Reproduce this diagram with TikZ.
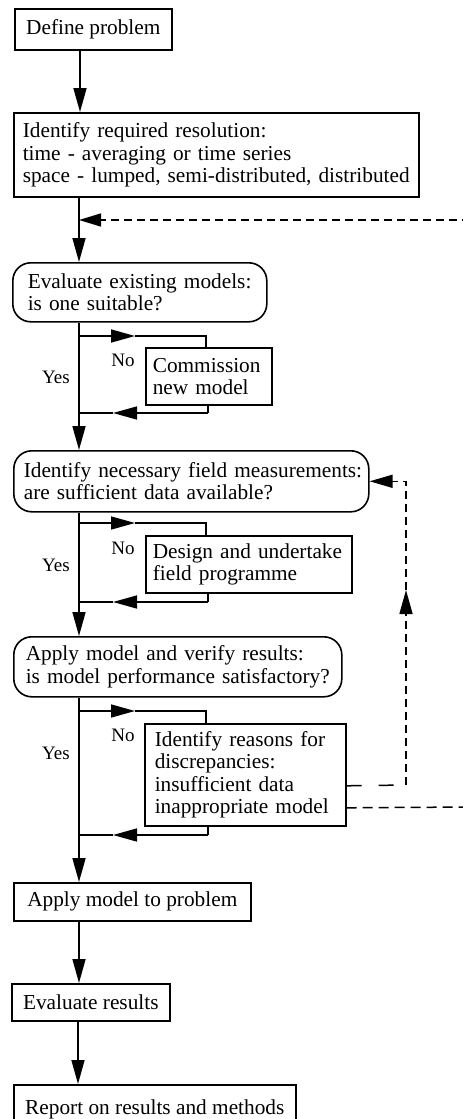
\documentclass[tikz,border=0pt]{standalone}
\usepackage{fontspec}
\setmainfont{Liberation Serif}
\usetikzlibrary{arrows.meta,calc}
\begin{document}
\begin{tikzpicture}[x=1pt,y=-1pt,
  every node/.style={font=\fontsize{21.3}{22.5}\selectfont},
  box/.style={draw,line width=1.6pt,anchor=north west,inner ysep=2pt},
  rbox/.style={box,rounded corners=18pt},
  lbl/.style={font=\fontsize{19}{20}\selectfont,inner sep=0pt},
  ln/.style={line width=1.6pt},
  arr/.style={ln,-{Triangle[length=24pt,width=13pt]}},
  sdash/.style={line width=1.5pt,dash pattern=on 8pt off 5pt},
  ldash/.style={line width=1.5pt,dash pattern=on 15pt off 17pt},
  mdash/.style={line width=1.5pt,dash pattern=on 10pt off 6pt}]
\useasboundingbox (0,0) rectangle (463,1119);
\path[clip] (0,0) rectangle (463,1119);

\coordinate (m) at (79,0);
\coordinate (fbx) at (406,0);

\node[box,minimum width=157pt,minimum height=41pt] (define) at (14,8) {Define problem};
\node[box,minimum width=405pt,minimum height=84pt,inner xsep=9pt,text width=387pt,align=left] (ident) at (13,112)
  {\mbox{Identify required resolution:}\\\mbox{time - averaging or time series}\\\mbox{space - lumped, semi-distributed, distributed}};
\node[rbox,minimum width=254pt,minimum height=59pt,inner xsep=15pt,text width=224pt,align=left] (evalm) at (12,262)
  {\mbox{Evaluate existing models:}\\\mbox{is one suitable?}};
\node[box,minimum width=126pt,minimum height=57pt,inner xsep=7pt,text width=112pt,align=left] (comm) at (145,347)
  {\mbox{Commission}\\\mbox{new model}};
\node[rbox,minimum width=355pt,minimum height=61pt,inner xsep=10pt,text width=335pt,align=left] (field) at (13,450)
  {\mbox{Identify necessary field measurements:}\\\mbox{are sufficient data available?}};
\node[box,minimum width=206pt,minimum height=57pt,inner xsep=7pt,text width=192pt,align=left] (design) at (145,535)
  {\mbox{Design and undertake}\\\mbox{field programme}};
\node[rbox,minimum width=328pt,minimum height=60pt,inner xsep=12pt,text width=304pt,align=left] (applyv) at (13,636)
  {\mbox{Apply model and verify results:}\\\mbox{is model performance satisfactory?}};
\node[box,minimum width=201pt,minimum height=102pt,inner xsep=10pt,text width=181pt,align=left] (reasons) at (144,723)
  {\mbox{Identify reasons for}\\\mbox{discrepancies:}\\\mbox{insufficient data}\\\mbox{inappropriate model}};
\node[box,minimum width=237pt,minimum height=38pt] (apply) at (13,882) {Apply model to problem};
\node[box,minimum width=158pt,minimum height=37pt] (evalr) at (11,983) {Evaluate results};
\node[box,minimum width=282pt,minimum height=50pt] (report) at (13,1084) {Report on results and methods};

% labels
\node[lbl] (no1) at (123,360) {No};
\node[lbl] (yes1) at (56,377) {Yes};
\node[lbl] (no2) at (123,548) {No};
\node[lbl] (yes2) at (56,565) {Yes};
\node[lbl] (no3) at (123,735) {No};
\node[lbl] (yes3) at (56,753) {Yes};

% main line
\draw[arr] ([xshift=1pt]define.south -| m) -- ([xshift=1pt]ident.north -| m);
\draw[arr] (ident.south -| m) -- (evalm.north -| m);
\draw[arr] (evalm.south -| m) -- (field.north -| m);
\draw[arr] (field.south -| m) -- (applyv.north -| m);
\draw[arr] (applyv.south -| m) -- (apply.north -| m);
\draw[arr] (apply.south -| m) -- (evalr.north -| m);
\draw[arr] ([xshift=-1pt]evalr.south -| m) -- ([xshift=-1pt]report.north -| m);

% branch 1
\coordinate (b1a) at (79,336);
\coordinate (b1b) at (135,336);
\coordinate (b1c) at (206,336);
\draw[arr] (b1a) -- (b1b);
\draw[ln] (b1b) -- (b1c) -- (comm.north -| b1c);
\coordinate (r1a) at (208,413);
\coordinate (r1b) at (113,413);
\draw[ln] (comm.south -| r1a) -- (r1a);
\draw[arr] (r1a) -- (r1b);
\draw[ln] (r1b) -- (r1b -| m);

% branch 2
\coordinate (b2a) at (79,523);
\coordinate (b2b) at (135,523);
\coordinate (b2c) at (206,523);
\draw[arr] (b2a) -- (b2b);
\draw[ln] (b2b) -- (b2c) -- (design.north -| b2c);
\coordinate (r2a) at (208,602);
\coordinate (r2b) at (113,602);
\draw[ln] (design.south -| r2a) -- (r2a);
\draw[arr] (r2a) -- (r2b);
\draw[ln] (r2b) -- (r2b -| m);

% branch 3
\coordinate (b3a) at (79,711);
\coordinate (b3b) at (135,711);
\coordinate (b3c) at (206,711);
\draw[arr] (b3a) -- (b3b);
\draw[ln] (b3b) -- (b3c) -- (reasons.north -| b3c);
\coordinate (r3a) at (208,835);
\coordinate (r3b) at (113,835);
\draw[ln] (reasons.south -| r3a) -- (r3a);
\draw[arr] (r3a) -- (r3b);
\draw[ln] (r3b) -- (r3b -| m);

% dashed feedback
\coordinate (fbtop) at (470,220);
\draw[sdash,-{Triangle[length=22pt,width=13pt]}] (fbtop) -- (fbtop -| m);

\coordinate (d1) at (406,785);
\coordinate (d2) at (406,590);
\draw[ldash] ([yshift=-11pt]reasons.east) -- (d1);
\draw[sdash,-{Triangle[length=24pt,width=13pt]}] (d1) -- (d2);
\draw[sdash,-{Triangle[length=23pt,width=13pt]}] (d2) -- (field.east -| fbx) -- (field.east);

\coordinate (d3) at (470,807);
\draw[mdash] ([yshift=-33pt]reasons.east) -- (d3);
\end{tikzpicture}
\end{document}
